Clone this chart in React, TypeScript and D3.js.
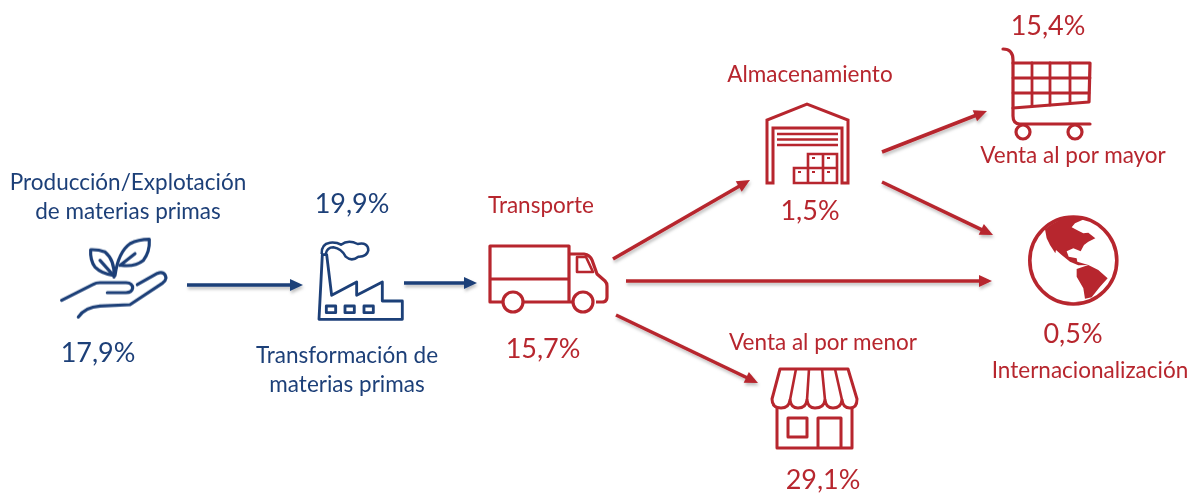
import React from 'react';
import * as d3 from 'd3';

// stages of the supply chain, left to right
const stageIds = ['produccion', 'transformacion', 'transporte', 'almacenamiento', 'mayor', 'menor', 'internacional'];
const stageLabels = [
  ['Producción/Explotación', 'de materias primas'],
  ['Transformación de', 'materias primas'],
  ['Transporte'],
  ['Almacenamiento'],
  ['Venta al por mayor'],
  ['Venta al por menor'],
  ['Internacionalización'],
];
const stageShares = ['17,9%', '19,9%', '15,7%', '1,5%', '15,4%', '29,1%', '0,5%'];
const stageColors = ['navy', 'navy', 'red', 'red', 'red', 'red', 'red'];

const NAVY = '#1d3f78';
const RED = '#b7262e';
const colors = { navy: NAVY, red: RED };

// text anchors: x centre + baseline of first label line, and of the share
const labelPos = [[128, 190], [347, 363], [541, 213], [810, 82], [1073, 163], [823, 350], [1090, 378]];
const sharePos = [[98, 362], [352, 213], [543, 358], [810, 220], [1048, 35], [823, 489], [1073, 343]];

// arrows: from, to, colour
const arrows = [
  [187, 285, 303, 285, 'navy'],
  [404, 283, 477, 283, 'navy'],
  [613, 259, 750, 180, 'red'],
  [626, 281, 992, 281, 'red'],
  [616, 315, 758, 383, 'red'],
  [882, 152, 987, 111, 'red'],
  [882, 182, 993, 235, 'red'],
];

const line = d3.line();

function Arrow({ a }) {
  const [x1, y1, x2, y2, c] = a;
  const color = colors[c];
  const ang = Math.atan2(y2 - y1, x2 - x1);
  const deg = (ang * 180) / Math.PI;
  const neck = 11;
  const sx = x2 - neck * Math.cos(ang);
  const sy = y2 - neck * Math.sin(ang);
  return (
    <g filter="url(#shadow)">
      <path d={line([[x1, y1], [sx, sy]])} stroke={color} strokeWidth={3.6} fill="none" />
      <path
        d={line([[0, 0], [-13, -6], [-13, 6]]) + 'Z'}
        fill={color}
        transform={`translate(${x2},${y2}) rotate(${deg})`}
      />
    </g>
  );
}

// hand and factory were traced at 3x, hence the scale
function Hand() {
  return (
    <g
      transform="translate(50,232) scale(0.3333)"
      fill="none"
      stroke={NAVY}
      strokeWidth={9.5}
      strokeLinecap="round"
      strokeLinejoin="round"
    >
      <path d="M35 205 L130 157 Q138 152 150 152 L228 152 Q248 153 248 168 Q246 182 228 182 L172 182" />
      <path d="M262 158 L322 124 Q345 116 348 138 Q347 146 338 153 L240 218 L150 222 Q105 225 85 255" />
      <path d="M192 135 Q195 85 165 60 Q145 52 122 53 Q120 85 135 105 Q155 125 190 130" />
      <path d="M150 85 L190 130" />
      <path d="M195 130 Q205 60 240 35 Q265 22 298 22 Q300 60 280 85 Q255 105 215 100" />
      <path d="M210 100 L255 65" />
    </g>
  );
}

function Factory() {
  return (
    <g transform="translate(305,232) scale(0.3333)" fill="none" stroke={NAVY} strokeWidth={8.5} strokeLinejoin="round">
      <path d="M42 262 L52 68 L65 68 L80 190 L155 150 L155 190 L232 150 L232 207 L292 207 L292 262 Z" />
      <rect x={64} y={222} width={28} height={20} />
      <rect x={120} y={222} width={28} height={20} />
      <rect x={177} y={222} width={28} height={20} />
      <path
        d="M50 66 Q48 36 75 32 Q95 30 108 38 Q130 22 158 36 Q190 30 190 55 Q185 75 160 74 Q140 90 122 74 Q110 50 85 46 Q66 46 62 66"
        strokeWidth={7.5}
      />
    </g>
  );
}

function Truck() {
  return (
    <g fill="none" stroke={RED} strokeWidth={3.2} strokeLinejoin="round">
      <path d="M503 302 L490 302 L490 246 L569 246 L569 302" />
      <path d="M490 279 L569 279" />
      <path d="M523 302 L573 302" />
      <path d="M570 254 L584 254 Q590 255 592 260 L597 274 L605 281 Q607 283 607 286 L607 297 Q607 302 602 302 L596 302" />
      <path d="M577 257 L586 257 L593 272 L577 272 Z" strokeWidth={2.6} />
      <circle cx={513} cy={302} r={10} />
      <circle cx={583} cy={302} r={10} />
    </g>
  );
}

function Warehouse() {
  return (
    <g fill="none" stroke={RED} strokeWidth={3} strokeLinejoin="miter">
      <path d="M767 183 L767 120 L807 104 L848 120 L848 183 L842 183 L842 128 L773 128 L773 183 Z" />
      <path d="M777 134 L838 134 M777 139.5 L838 139.5 M777 145 L838 145" strokeWidth={2.5} />
      <path d="M808 168 L808 154 L837 154 L837 183 L794 183 L794 168 L837 168 M823 154 L823 183 M808 168 L808 183" strokeWidth={2.6} />
      <path d="M812 158 h3 M827 158 h3 M798 172 h3 M812 172 h3 M827 172 h3" strokeWidth={2} />
    </g>
  );
}

function Cart() {
  return (
    <g fill="none" stroke={RED} strokeWidth={3.2} strokeLinejoin="round" strokeLinecap="round">
      <path d="M1003 49 Q1013 49 1013 60 L1013 116 Q1013 124 1020 124 L1090 124" />
      <path d="M1013 63 L1090 63 L1089 102 L1013 108" />
      <path d="M1013 78 L1090 78 M1013 93 L1089 93" strokeWidth={2.8} />
      <path d="M1032 63 L1032 106 M1050 63 L1050 105 M1070 63 L1070 103" strokeWidth={2.8} />
      <circle cx={1023} cy={132} r={7} />
      <circle cx={1075} cy={132} r={7} />
    </g>
  );
}

function Globe() {
  return (
    <g>
      <circle cx={1073.3} cy={260.5} r={43.5} fill="none" stroke={RED} strokeWidth={3.6} />
      <g transform="translate(1020,210) scale(0.3333)" fill={RED}>
        <path d="M75 58 Q110 28 150 22 Q172 20 192 28 L165 40 L155 52 L175 62 L190 70 L205 68 L226 85 L205 95 L192 105 L182 124 L160 115 L140 124 L146 140 L170 145 L172 155 L205 165 L175 166 L150 155 L125 135 L108 120 L106 130 L90 105 L80 85 Z" />
        <path d="M170 177 L205 165 L235 180 L263 205 L240 230 L215 262 L195 266 L190 235 L170 200 Z" />
      </g>
    </g>
  );
}

function Store() {
  return (
    <g fill="none" stroke={RED} strokeWidth={3} strokeLinejoin="round">
      <path d="M780 369 L848 369 L857 399 Q857 408 850 408 Q843 408 842 400 Q841 408 833 408 Q826 408 825 400 Q824 408 815 408 Q808 408 807 400 Q806 408 798 408 Q791 408 790 400 Q789 408 781 408 Q772 408 772 399 Z" />
      <path d="M790 400 L796 369 M807 400 L809 369 M825 400 L822 369 M842 400 L835 369" strokeWidth={2.6} />
      <path d="M777 408 L777 448 L852 448 L852 408" />
      <rect x={788} y={418} width={19} height={19} />
      <path d="M818 448 L818 418 L841 418 L841 448" />
    </g>
  );
}

export default function App() {
  const font = 'Lato, "Noto Sans", sans-serif';
  return (
    <svg
      width={1198}
      height={495}
      viewBox="0 0 1198 495"
      style={{ position: 'absolute', left: 0, top: 0, background: '#fff' }}
    >
      <defs>
        <filter id="soft" x="-2%" y="-2%" width="104%" height="104%">
          <feGaussianBlur stdDeviation={0.6} />
        </filter>
        <filter id="shadow" filterUnits="userSpaceOnUse" x="0" y="0" width="1198" height="495">
          <feDropShadow dx={1} dy={2.5} stdDeviation={1.6} floodColor="#000" floodOpacity={0.25} />
        </filter>
      </defs>
      <g filter="url(#soft)">
        {arrows.map((a, i) => (
          <Arrow key={i} a={a} />
        ))}
        <Hand />
        <Factory />
        <Truck />
        <Warehouse />
        <Cart />
        <Globe />
        <Store />
        {stageIds.map((id, i) => (
          <g key={id} fontFamily={font} textAnchor="middle" fill={colors[stageColors[i]]}>
            {stageLabels[i].map((t, j) => (
              <text key={t} x={labelPos[i][0]} y={labelPos[i][1] + j * 29} fontSize={22.5}>
                {t}
              </text>
            ))}
            <text x={sharePos[i][0]} y={sharePos[i][1]} fontSize={27}>
              {stageShares[i]}
            </text>
          </g>
        ))}
      </g>
    </svg>
  );
}
